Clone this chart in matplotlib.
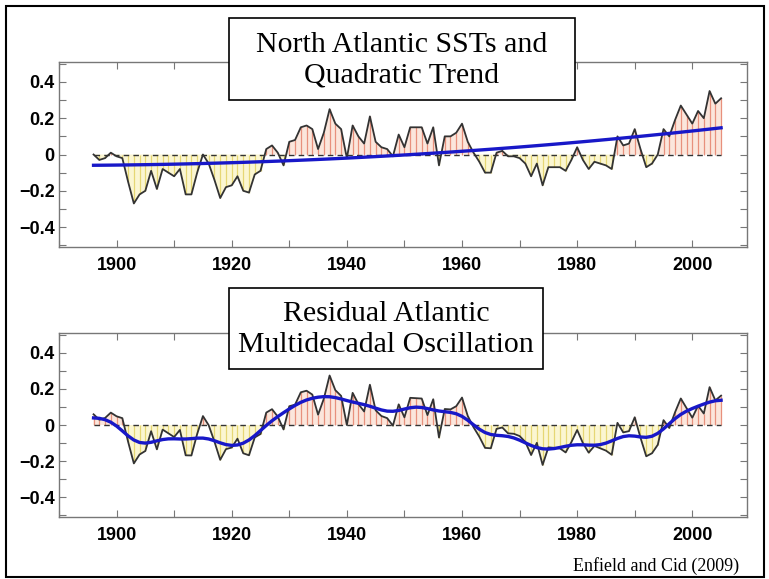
import numpy as np
import matplotlib.pyplot as plt
from matplotlib.patches import Rectangle
from matplotlib.ticker import MultipleLocator

# annual North Atlantic SST anomalies, 1896-2005
years = np.arange(1896, 2006)
sst = np.array([
    0.00, -0.03, -0.02, 0.01, -0.01, -0.02, -0.15, -0.27, -0.22, -0.20,   # 1896-1905
    -0.09, -0.19, -0.08, -0.10, -0.12, -0.08, -0.22, -0.22, -0.10, 0.00,  # 1906-1915
    -0.05, -0.14, -0.24, -0.18, -0.17, -0.12, -0.20, -0.21, -0.11, -0.09, # 1916-1925
    0.03, 0.05, 0.01, -0.06, 0.07, 0.08, 0.15, 0.16, 0.14, 0.03,          # 1926-1935
    0.12, 0.25, 0.17, 0.14, -0.02, 0.16, 0.10, 0.06, 0.21, 0.07,          # 1936-1945
    0.04, 0.03, -0.01, 0.11, 0.04, 0.15, 0.15, 0.15, 0.06, 0.15,          # 1946-1955
    -0.06, 0.10, 0.10, 0.12, 0.17, 0.07, 0.01, -0.04, -0.10, -0.10,       # 1956-1965
    0.01, 0.02, -0.01, -0.01, -0.02, -0.05, -0.12, -0.05, -0.17, -0.07,   # 1966-1975
    -0.07, -0.07, -0.09, -0.03, 0.04, -0.03, -0.08, -0.04, -0.05, -0.06,  # 1976-1985
    -0.08, 0.10, 0.05, 0.06, 0.14, 0.03, -0.07, -0.05, 0.00, 0.14,        # 1986-1995
    0.10, 0.19, 0.27, 0.22, 0.17, 0.24, 0.20, 0.35, 0.28, 0.31,           # 1996-2005
])

# quadratic trend line, read at a few years off the figure
trend_years = [1896, 1920, 1940, 1960, 1980, 2000, 2005]
trend_vals = [-0.06, -0.045, -0.018, 0.018, 0.064, 0.133, 0.146]
coef = np.polyfit(trend_years, trend_vals, 2)
trend = np.polyval(coef, years)
resid = sst - trend

# smoothed residual (gaussian low-pass, reflected ends)
sigma = 2.6
k = np.arange(-10, 11)
w = np.exp(-0.5 * (k / sigma) ** 2)
w /= w.sum()
padded = np.concatenate([resid[10:0:-1], resid, resid[-2:-12:-1]])
smooth = np.convolve(padded, w, mode="valid")

title_top = "North Atlantic SSTs and\nQuadratic Trend"
title_bot = "Residual Atlantic\nMultidecadal Oscillation"
credit = "Enfield and Cid (2009)"

W, H = 769, 579
fig = plt.figure(figsize=(W / 100, H / 100), dpi=100)


def fx(px):
    return px / W


def fy(py):
    return 1 - py / H


def panel(rect, series, line, line_w):
    ax = fig.add_axes(rect)
    pos_fill = "#fbe6dc"
    neg_fill = "#fbf6d2"
    ax.fill_between(years, series, 0, where=series >= 0, interpolate=True,
                    color=pos_fill, lw=0)
    ax.fill_between(years, series, 0, where=series <= 0, interpolate=True,
                    color=neg_fill, lw=0)
    pos = series >= 0
    ax.vlines(years[pos], 0, series[pos], color="#e8907c", lw=0.9)
    ax.vlines(years[~pos], 0, series[~pos], color="#e6d774", lw=0.9)
    ax.plot([years[0], years[-1]], [0, 0], color="#333333", lw=1.0,
            ls=(0, (4, 3)))
    ax.plot(years, series, color="#333333", lw=1.3)
    ax.plot(years, line, color="#1818c8", lw=line_w)

    ax.set_xlim(1890, 2009.5)
    ax.set_ylim(-0.51, 0.51)
    ax.xaxis.set_major_locator(MultipleLocator(20))
    ax.xaxis.set_minor_locator(MultipleLocator(10))
    ax.yaxis.set_major_locator(MultipleLocator(0.2))
    ax.yaxis.set_minor_locator(MultipleLocator(0.1))
    ax.yaxis.set_major_formatter(plt.FuncFormatter(
        lambda v, p: "0" if abs(v) < 1e-9 else f"{v:.1f}".replace("-", "\u2212")))
    ax.tick_params(which="both", direction="in", top=True, right=True,
                   length=5, width=0.8, color="#777777")
    ax.tick_params(axis="x", pad=7)
    ax.tick_params(axis="y", pad=3)
    for lab in ax.get_xticklabels() + ax.get_yticklabels():
        lab.set_fontfamily("Liberation Sans")
        lab.set_fontweight("bold")
        lab.set_fontsize(13)
    for s in ax.spines.values():
        s.set_color("#777777")
        s.set_linewidth(1.0)
    return ax


ax1 = panel([fx(59), fy(247), fx(747) - fx(59), fy(62) - fy(247)], sst, trend, 2.4)
ax2 = panel([fx(59), fy(517), fx(747) - fx(59), fy(333) - fy(517)], resid, smooth, 2.4)

# title boxes
for (x0, y0, x1, y1), txt in [((229, 18, 575, 100), title_top),
                              ((229, 288, 543, 369), title_bot)]:
    fig.add_artist(Rectangle((fx(x0), fy(y1)), fx(x1) - fx(x0), fy(y0) - fy(y1),
                             transform=fig.transFigure, fc="white", ec="black",
                             lw=1.2, zorder=10))
    fig.text(fx((x0 + x1) / 2), fy((y0 + y1) / 2 + 1), txt, ha="center", va="center",
             fontfamily="Liberation Serif", fontsize=21.5, linespacing=1.22, zorder=11)

fig.text(fx(739), fy(566), credit, ha="right", va="center",
         fontfamily="Liberation Serif", fontsize=13)

# outer frame
fig.add_artist(Rectangle((fx(6), fy(577)), fx(764) - fx(6), fy(6) - fy(577),
                         transform=fig.transFigure, fill=False, ec="black", lw=1.5))

fig.savefig("out.png", dpi=100)
